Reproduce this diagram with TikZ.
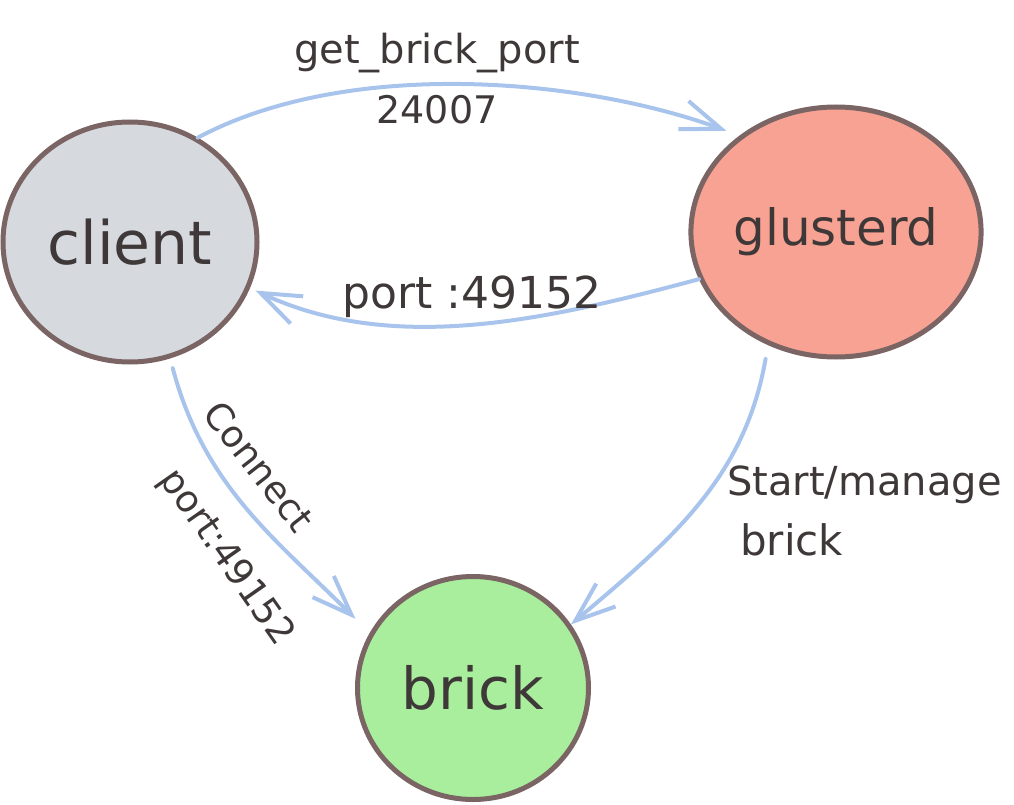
\documentclass[tikz,border=0pt]{standalone}
\usepackage{fontspec}
\setmainfont{DejaVu Sans}
\usetikzlibrary{arrows.meta,shapes.geometric}
\definecolor{inkc}{HTML}{3F3838}
\definecolor{rimc}{HTML}{7A6464}
\definecolor{flowc}{HTML}{A8C4EC}
\definecolor{clientc}{HTML}{D6D9DD}
\definecolor{glusterc}{HTML}{F7A292}
\definecolor{brickc}{HTML}{A8EE9C}
\tikzset{
  blob/.style={ellipse, draw=rimc, line width=5pt, text=inkc, inner sep=0pt},
  flow/.style={draw=flowc, line width=4pt, line cap=round, -{Straight Barb[length=40pt,width=30pt,line width=4pt]}},
  lbl/.style={text=inkc, inner sep=0pt},
}
\begin{document}
\begin{tikzpicture}[x=1pt,y=1pt]
\useasboundingbox (0,0) rectangle (1014,-805);
\node[blob, fill=clientc, minimum width=254pt, minimum height=240pt, font=\fontsize{60}{70}\selectfont] (client) at (130,-242) {client};
\node[blob, fill=glusterc, minimum width=264pt, minimum height=250pt, font=\fontsize{50}{60}\selectfont] (glusterd) at (836,-232) {glusterd};
\node[blob, fill=brickc, minimum width=231pt, minimum height=223pt, font=\fontsize{58}{66}\selectfont] (brick) at (473,-688) {brick};

\draw[flow, shorten >=14pt] (client.57) to[out=28, in=160, looseness=0.8] (glusterd.135);
\draw[flow, shorten >=6pt] (glusterd.199) to[out=195, in=-25, looseness=0.9] (client.-21);
\draw[flow, shorten <=10pt, shorten >=20pt] (client.-71) to[out=-75, in=135] (brick.152);
\draw[flow, shorten <=14pt] (glusterd.239) to[out=-100, in=40] (brick.33);

\node[lbl, font=\fontsize{40}{46}\selectfont] (l1) at (437,-53) {get\_brick\_port};
\node[lbl, font=\fontsize{38}{44}\selectfont] (l2) at (437,-110) {24007};
\node[lbl, font=\fontsize{44}{50}\selectfont] (l3) at (472,-297) {port :49152};
\node[lbl, font=\fontsize{37}{42}\selectfont, rotate=-52] (l4) at (259,-466) {Connect};
\node[lbl, font=\fontsize{37}{42}\selectfont, rotate=-55] (l5) at (226,-558) {port:49152};
\node[lbl, font=\fontsize{40}{46}\selectfont, anchor=west] (l6) at (727,-485) {Start/manage};
\node[lbl, font=\fontsize{42}{48}\selectfont, anchor=west] (l7) at (740,-540) {brick};
\end{tikzpicture}
\end{document}
